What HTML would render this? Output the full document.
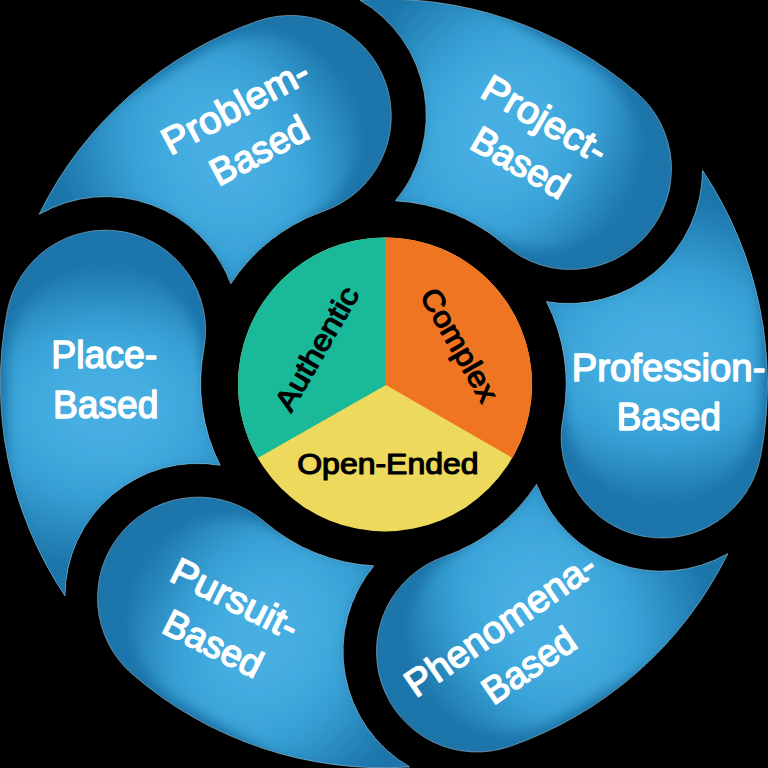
<!DOCTYPE html>
<html><head><meta charset="utf-8"><title>PBL</title>
<style>
html,body{margin:0;padding:0;background:#000;}
body{width:768px;height:768px;overflow:hidden;font-family:"Liberation Sans",sans-serif;}
svg{display:block;}
text{font-family:"Liberation Sans",sans-serif;stroke-linejoin:round;}
</style></head><body>
<svg width="768" height="768" viewBox="0 0 768 768">
<defs>
<radialGradient id="pg" gradientUnits="userSpaceOnUse" cx="0" cy="0" r="1" fx="0" fy="-0.081" gradientTransform="translate(107 417.5) scale(195 154.5)">
 <stop offset="0" stop-color="#46aee2"/>
 <stop offset="0.18" stop-color="#46aee2"/>
 <stop offset="0.35" stop-color="#42aade"/>
 <stop offset="0.563" stop-color="#37a0d4"/>
 <stop offset="0.78" stop-color="#2a8bc1"/>
 <stop offset="0.9" stop-color="#227fb4"/>
 <stop offset="1" stop-color="#1d76ab"/>
</radialGradient>
<filter id="inner" x="-15%" y="-10%" width="130%" height="120%" color-interpolation-filters="sRGB">
 <feComponentTransfer in="SourceAlpha" result="inv"><feFuncA type="table" tableValues="1 0"/></feComponentTransfer>
 <feOffset in="inv" dx="0" dy="0" result="off"/>
 <feGaussianBlur in="off" stdDeviation="4" result="blur"/>
 <feFlood flood-color="#1d76ab" flood-opacity="0.45" result="col"/>
 <feComposite in="col" in2="blur" operator="in" result="shadow"/>
 <feComposite in="shadow" in2="SourceAlpha" operator="in" result="clipped"/>
 <feMerge><feMergeNode in="SourceGraphic"/><feMergeNode in="clipped"/></feMerge>
</filter>
</defs>
<rect width="768" height="768" fill="#000"/>
<defs><path id="pt" d="M65.24 598.83 A385 385 0 0 1 6.88 311.93 A101 101 0 0 1 205.27 349.95 A183 183 0 0 0 221.77 467.13 A134 134 0 0 0 65.24 598.83 Z"/><clipPath id="pc"><use href="#pt"/></clipPath><path id="st" d="M6.5 720 L6.5 368 A99 99 0 0 1 204.5 368 L250 430 L250 720 Z"/><filter id="bl" x="-20%" y="-20%" width="140%" height="140%"><feGaussianBlur stdDeviation="6"/></filter></defs>
<g transform="translate(65 596) scale(0.992) translate(-65.24 -598.83) rotate(0 385 384.4)" filter="url(#inner)"><use href="#pt" fill="#1d76ab"/><g clip-path="url(#pc)"><use href="#st" fill="url(#pg)" filter="url(#bl)"/></g></g><use href="#pt" transform="translate(65 596) scale(0.992) translate(-65.24 -598.83) rotate(0 385 384.4)" fill="none" stroke="#d4ecf8" stroke-width="0.7" stroke-opacity="0.55"/>
<g transform="translate(39.25 214.25) scale(0.996) translate(-39.42 -214.70) rotate(60 385 384.4)" filter="url(#inner)"><use href="#pt" fill="#1d76ab"/><g clip-path="url(#pc)"><use href="#st" fill="url(#pg)" filter="url(#bl)"/></g></g><use href="#pt" transform="translate(39.25 214.25) scale(0.996) translate(-39.42 -214.70) rotate(60 385 384.4)" fill="none" stroke="#d4ecf8" stroke-width="0.7" stroke-opacity="0.55"/>
<g transform="translate(359.8 0) scale(0.997) translate(-359.18 -0.27) rotate(120 385 384.4)" filter="url(#inner)"><use href="#pt" fill="#1d76ab"/><g clip-path="url(#pc)"><use href="#st" fill="url(#pg)" filter="url(#bl)"/></g></g><use href="#pt" transform="translate(359.8 0) scale(0.997) translate(-359.18 -0.27) rotate(120 385 384.4)" fill="none" stroke="#d4ecf8" stroke-width="0.7" stroke-opacity="0.55"/>
<g transform="translate(702.5 170.3) scale(0.997) translate(-704.76 -169.97) rotate(180 385 384.4)" filter="url(#inner)"><use href="#pt" fill="#1d76ab"/><g clip-path="url(#pc)"><use href="#st" fill="url(#pg)" filter="url(#bl)"/></g></g><use href="#pt" transform="translate(702.5 170.3) scale(0.997) translate(-704.76 -169.97) rotate(180 385 384.4)" fill="none" stroke="#d4ecf8" stroke-width="0.7" stroke-opacity="0.55"/>
<g transform="translate(727.8 553.6) scale(0.994) translate(-730.58 -554.10) rotate(240 385 384.4)" filter="url(#inner)"><use href="#pt" fill="#1d76ab"/><g clip-path="url(#pc)"><use href="#st" fill="url(#pg)" filter="url(#bl)"/></g></g><use href="#pt" transform="translate(727.8 553.6) scale(0.994) translate(-730.58 -554.10) rotate(240 385 384.4)" fill="none" stroke="#d4ecf8" stroke-width="0.7" stroke-opacity="0.55"/>
<g transform="translate(409.5 766.9) scale(0.998) translate(-410.82 -768.53) rotate(300 385 384.4)" filter="url(#inner)"><use href="#pt" fill="#1d76ab"/><g clip-path="url(#pc)"><use href="#st" fill="url(#pg)" filter="url(#bl)"/></g></g><use href="#pt" transform="translate(409.5 766.9) scale(0.998) translate(-410.82 -768.53) rotate(300 385 384.4)" fill="none" stroke="#d4ecf8" stroke-width="0.7" stroke-opacity="0.55"/>
<circle cx="385" cy="384.4" r="147" fill="#edd95c"/>
<path d="M386 385 L257.69 457.90 A147 147 0 0 1 386.00 237.40 L386.00 385.00 Z" fill="#19b99a"/>
<path d="M385 384.4 L385.00 237.40 A147 147 0 0 1 512.31 457.90 Z" fill="#f07523"/>
<g transform="translate(0 0) rotate(0)" fill="#fff" stroke="#fff" stroke-width="1.45" font-size="38"><text x="51.23" y="368.17" textLength="106.08" lengthAdjust="spacingAndGlyphs">Place-</text><text x="52.94" y="417.57" textLength="105.37" lengthAdjust="spacingAndGlyphs">Based</text></g>
<g transform="translate(247.7 129.1) rotate(-28)" fill="#fff" stroke="#fff" stroke-width="1.45" font-size="38"><text x="-81.09" y="-12.72" textLength="161.30" lengthAdjust="spacingAndGlyphs">Problem-</text><text x="-52.96" y="37.27" textLength="105.68" lengthAdjust="spacingAndGlyphs">Based</text></g>
<g transform="translate(532.5 141.7) rotate(30)" fill="#fff" stroke="#fff" stroke-width="1.45" font-size="38"><text x="-69.61" y="-12.72" textLength="138.08" lengthAdjust="spacingAndGlyphs">Project-</text><text x="-52.96" y="37.27" textLength="105.68" lengthAdjust="spacingAndGlyphs">Based</text></g>
<g transform="translate(0 0) rotate(0)" fill="#fff" stroke="#fff" stroke-width="1.45" font-size="38"><text x="571.68" y="380.88" textLength="193.73" lengthAdjust="spacingAndGlyphs">Profession-</text><text x="616.66" y="430.47" textLength="104.33" lengthAdjust="spacingAndGlyphs">Based</text></g>
<g transform="translate(515.4 645.4) rotate(-34.5)" fill="#fff" stroke="#fff" stroke-width="1.45" font-size="38"><text x="-112.05" y="-12.72" textLength="222.65" lengthAdjust="spacingAndGlyphs">Phenomena-</text><text x="-52.44" y="37.27" textLength="104.64" lengthAdjust="spacingAndGlyphs">Based</text></g>
<g transform="translate(224 622.1) rotate(26.5)" fill="#fff" stroke="#fff" stroke-width="1.45" font-size="38"><text x="-69.09" y="-12.72" textLength="137.06" lengthAdjust="spacingAndGlyphs">Pursuit-</text><text x="-52.96" y="37.27" textLength="105.68" lengthAdjust="spacingAndGlyphs">Based</text></g>
<g transform="translate(316.8 348.7) rotate(-60)" fill="#000" stroke="#000" stroke-width="1.2" font-size="29.5"><text x="-69.00" y="10.10" textLength="138.00" lengthAdjust="spacingAndGlyphs">Authentic</text></g>
<g transform="translate(459.8 345.7) rotate(60)" fill="#000" stroke="#000" stroke-width="1.2" font-size="29.5"><text x="-63.68" y="10.10" textLength="125.64" lengthAdjust="spacingAndGlyphs">Complex</text></g>
<g transform="translate(0 0) rotate(0)" fill="#000" stroke="#000" stroke-width="1.2" font-size="29.5"><text x="297.22" y="474.40" textLength="181.39" lengthAdjust="spacingAndGlyphs">Open-Ended</text></g>
</svg></body></html>
